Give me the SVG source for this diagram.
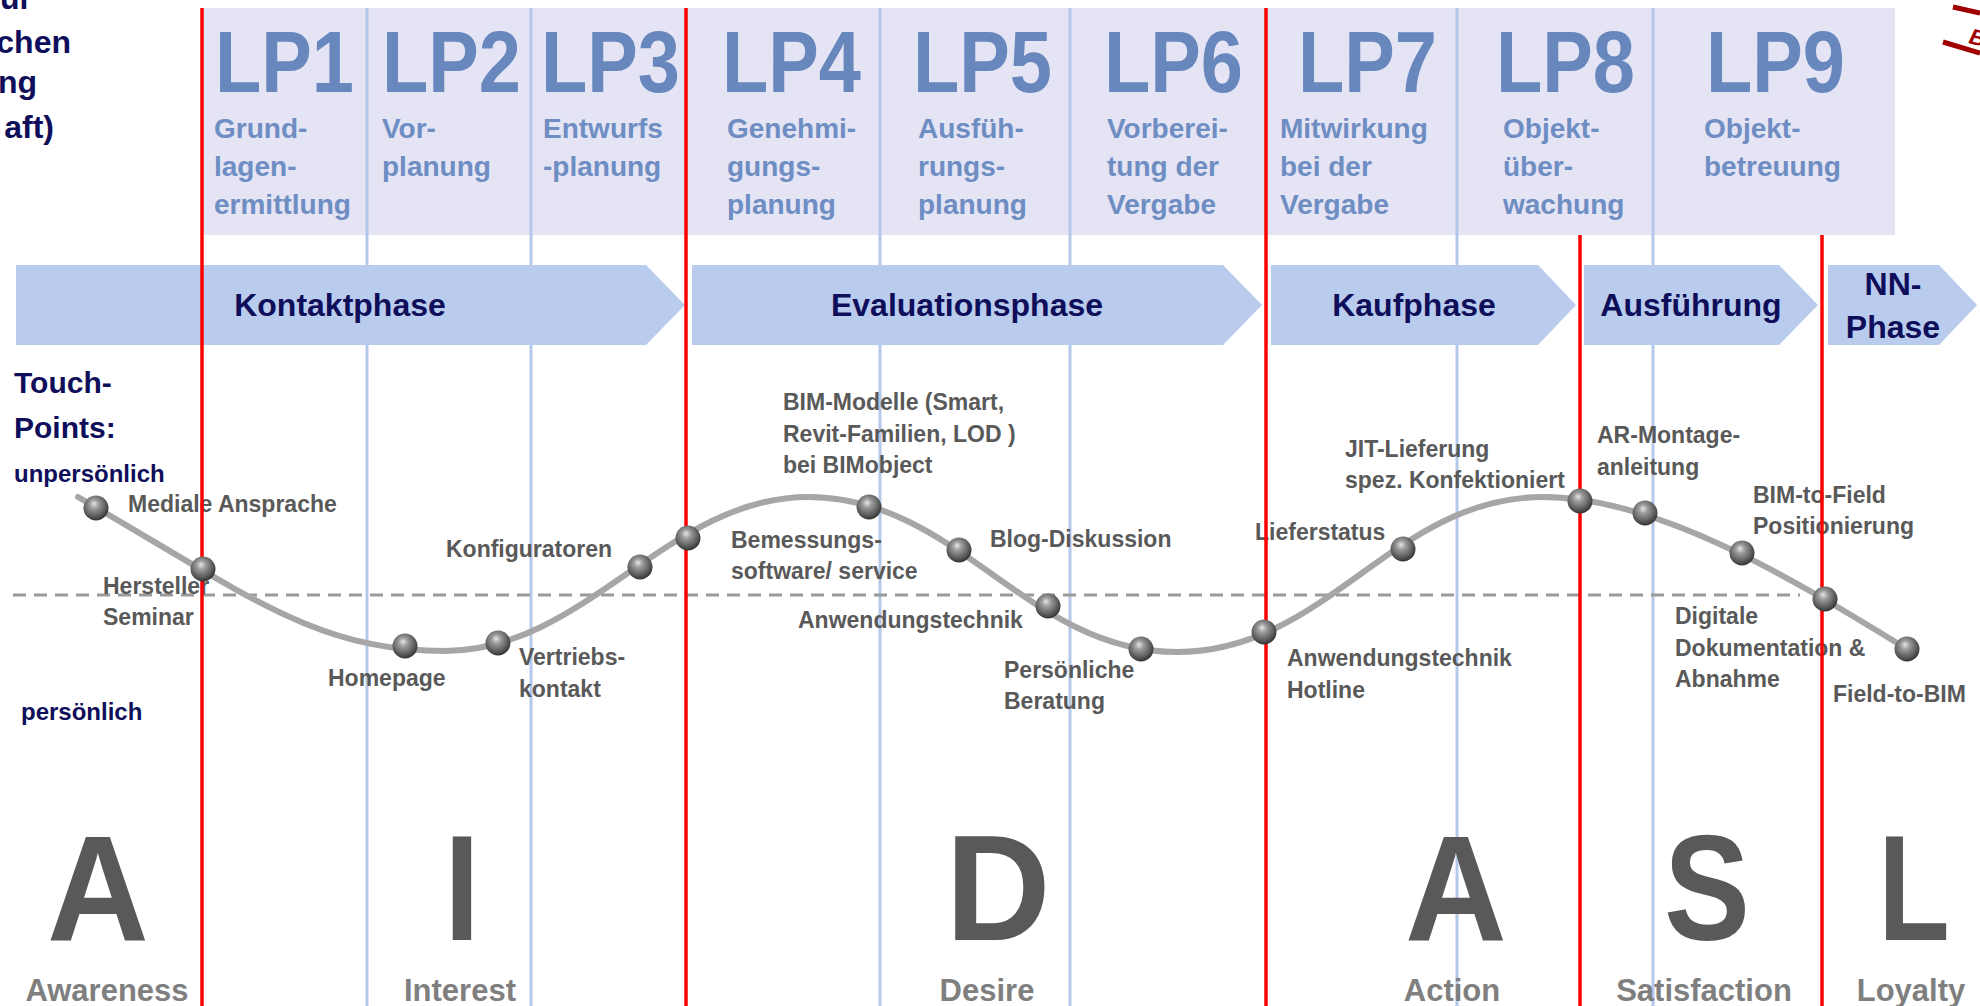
<svg xmlns="http://www.w3.org/2000/svg" width="1980" height="1006" viewBox="0 0 1980 1006">
<defs>
<style>
text{font-family:"Liberation Sans",Arial,sans-serif;font-weight:bold}
.lp{font-size:88px;fill:#6787BD}
.lps{font-size:28px;fill:#6E8DC2}
.ph{font-size:32px;fill:#0E0E5A;text-anchor:middle}
.nv{fill:#0E0E5A}
.tp{font-size:23px;fill:#595959}
.big{font-size:150px;fill:#595959;text-anchor:middle}
.sub{font-size:31px;fill:#7F7F7F;text-anchor:middle}
.blue{stroke:#B4C8EA;stroke-width:3}
.red{stroke:#FF0000;stroke-width:3.5}
.arrow{fill:#BACCED}
.ball{fill:url(#ballg)}
</style>
<radialGradient id="ballg" cx="0.45" cy="0.4" r="0.6" fx="0.42" fy="0.32">
<stop offset="0" stop-color="#E6E6E6"/>
<stop offset="0.3" stop-color="#9C9C9C"/>
<stop offset="0.75" stop-color="#5C5C5C"/>
<stop offset="1" stop-color="#333333"/>
</radialGradient>
</defs>
<rect width="1980" height="1006" fill="#FFFFFF"/>

<!-- LP header box -->
<rect x="203" y="8" width="1692" height="227" fill="#E4E4F5"/>

<!-- light blue separators -->
<g id="blue-lines">
<line class="blue" x1="367" y1="8" x2="367" y2="1006"/>
<line class="blue" x1="531" y1="8" x2="531" y2="1006"/>
<line class="blue" x1="880" y1="8" x2="880" y2="1006"/>
<line class="blue" x1="1070" y1="8" x2="1070" y2="1006"/>
<line class="blue" x1="1457" y1="8" x2="1457" y2="1006"/>
<line class="blue" x1="1653" y1="8" x2="1653" y2="1006"/>
</g>

<!-- LP labels -->
<g id="lp1"><text class="lp" x="215" y="92" textLength="139" lengthAdjust="spacingAndGlyphs">LP1</text>
<text class="lps" x="214" y="138">Grund-</text><text class="lps" x="214" y="176">lagen-</text><text class="lps" x="214" y="214">ermittlung</text></g>
<g id="lp2"><text class="lp" x="382" y="92" textLength="139" lengthAdjust="spacingAndGlyphs">LP2</text>
<text class="lps" x="382" y="138">Vor-</text><text class="lps" x="382" y="176">planung</text></g>
<g id="lp3"><text class="lp" x="541" y="92" textLength="139" lengthAdjust="spacingAndGlyphs">LP3</text>
<text class="lps" x="543" y="138">Entwurfs</text><text class="lps" x="543" y="176">-planung</text></g>
<g id="lp4"><text class="lp" x="722" y="92" textLength="139" lengthAdjust="spacingAndGlyphs">LP4</text>
<text class="lps" x="727" y="138">Genehmi-</text><text class="lps" x="727" y="176">gungs-</text><text class="lps" x="727" y="214">planung</text></g>
<g id="lp5"><text class="lp" x="913" y="92" textLength="139" lengthAdjust="spacingAndGlyphs">LP5</text>
<text class="lps" x="918" y="138">Ausfüh-</text><text class="lps" x="918" y="176">rungs-</text><text class="lps" x="918" y="214">planung</text></g>
<g id="lp6"><text class="lp" x="1104" y="92" textLength="139" lengthAdjust="spacingAndGlyphs">LP6</text>
<text class="lps" x="1107" y="138">Vorberei-</text><text class="lps" x="1107" y="176">tung der</text><text class="lps" x="1107" y="214">Vergabe</text></g>
<g id="lp7"><text class="lp" x="1298" y="92" textLength="139" lengthAdjust="spacingAndGlyphs">LP7</text>
<text class="lps" x="1280" y="138">Mitwirkung</text><text class="lps" x="1280" y="176">bei der</text><text class="lps" x="1280" y="214">Vergabe</text></g>
<g id="lp8"><text class="lp" x="1496" y="92" textLength="139" lengthAdjust="spacingAndGlyphs">LP8</text>
<text class="lps" x="1503" y="138">Objekt-</text><text class="lps" x="1503" y="176">über-</text><text class="lps" x="1503" y="214">wachung</text></g>
<g id="lp9"><text class="lp" x="1706" y="92" textLength="139" lengthAdjust="spacingAndGlyphs">LP9</text>
<text class="lps" x="1704" y="138">Objekt-</text><text class="lps" x="1704" y="176">betreuung</text></g>

<!-- phase arrows -->
<g id="phase-kontakt"><polygon class="arrow" points="16,265 646,265 685,305 646,345 16,345"/><text class="ph" x="340" y="316">Kontaktphase</text></g>
<g id="phase-evaluation"><polygon class="arrow" points="692,265 1223,265 1262,305 1223,345 692,345"/><text class="ph" x="967" y="316">Evaluationsphase</text></g>
<g id="phase-kauf"><polygon class="arrow" points="1271,265 1538,265 1576,305 1538,345 1271,345"/><text class="ph" x="1414" y="316">Kaufphase</text></g>
<g id="phase-ausfuehrung"><polygon class="arrow" points="1584,265 1779,265 1818,305 1779,345 1584,345"/><text class="ph" x="1691" y="316">Ausführung</text></g>
<g id="phase-nn"><polygon class="arrow" points="1828,265 1939,265 1977,305 1939,345 1828,345"/><text class="ph" x="1893" y="295">NN-</text><text class="ph" x="1893" y="338">Phase</text></g>

<!-- left texts -->
<g id="left-title" class="nv" font-size="32" text-anchor="end">
<text x="32" y="9">zur</text><text x="71" y="53">chen</text><text x="37" y="93">ng</text><text x="54" y="138">aft)</text>
</g>
<text class="nv" x="14" y="393" font-size="30">Touch-</text>
<text class="nv" x="14" y="438" font-size="30">Points:</text>
<text class="nv" x="14" y="482" font-size="24">unpersönlich</text>
<text class="nv" x="21" y="720" font-size="24">persönlich</text>

<!-- dashed separator -->
<line x1="13" y1="595" x2="1800" y2="595" stroke="#9A9A9A" stroke-width="3" stroke-dasharray="13 8"/>

<!-- touchpoint labels -->
<g id="labels">
<text class="tp" x="128" y="512">Mediale Ansprache</text>
<text class="tp" x="103" y="594">Hersteller</text><text class="tp" x="103" y="625">Seminar</text>
<text class="tp" x="328" y="686">Homepage</text>
<text class="tp" x="519" y="665">Vertriebs-</text><text class="tp" x="519" y="697">kontakt</text>
<text class="tp" x="446" y="557">Konfiguratoren</text>
<text class="tp" x="783" y="410">BIM-Modelle (Smart,</text><text class="tp" x="783" y="442">Revit-Familien, LOD )</text><text class="tp" x="783" y="473">bei BIMobject</text>
<text class="tp" x="731" y="548">Bemessungs-</text><text class="tp" x="731" y="579">software/ service</text>
<text class="tp" x="990" y="547">Blog-Diskussion</text>
<text class="tp" x="798" y="628">Anwendungstechnik</text>
<text class="tp" x="1004" y="678">Persönliche</text><text class="tp" x="1004" y="709">Beratung</text>
<text class="tp" x="1287" y="666">Anwendungstechnik</text><text class="tp" x="1287" y="698">Hotline</text>
<text class="tp" x="1255" y="540">Lieferstatus</text>
<text class="tp" x="1345" y="457">JIT-Lieferung</text><text class="tp" x="1345" y="488">spez. Konfektioniert</text>
<text class="tp" x="1597" y="443">AR-Montage-</text><text class="tp" x="1597" y="475">anleitung</text>
<text class="tp" x="1753" y="503">BIM-to-Field</text><text class="tp" x="1753" y="534">Positionierung</text>
<text class="tp" x="1675" y="624">Digitale</text><text class="tp" x="1675" y="656">Dokumentation &amp;</text><text class="tp" x="1675" y="687">Abnahme</text>
<text class="tp" x="1833" y="702">Field-to-BIM</text>
</g>

<!-- red phase boundaries -->
<g id="red-lines">
<line class="red" x1="202" y1="8" x2="202" y2="1006"/>
<line class="red" x1="686" y1="8" x2="686" y2="1006"/>
<line class="red" x1="1266" y1="8" x2="1266" y2="1006"/>
<line class="red" x1="1580" y1="235" x2="1580" y2="1006"/>
<line class="red" x1="1822" y1="235" x2="1822" y2="1006"/>
</g>

<!-- connectors: touchpoint curve -->
<g id="connectors">
<path d="M78,497 C248,595 315,651 445,651 C585,651 668,497 808,497 C958,497 1027,652 1177,652 C1327,652 1393,497 1543,497 C1663,497 1807,588 1907,649" fill="none" stroke="#A6A6A6" stroke-width="6" stroke-linecap="round"/>
</g>

<!-- touchpoint nodes -->
<g id="nodes">
<g id="tp-mediale"><circle class="ball" cx="96" cy="508" r="12.5"/></g>
<g id="tp-hersteller"><circle class="ball" cx="203" cy="569" r="12.5"/></g>
<g id="tp-homepage"><circle class="ball" cx="405" cy="646" r="12.5"/></g>
<g id="tp-vertrieb"><circle class="ball" cx="498" cy="643" r="12.5"/></g>
<g id="tp-konfig"><circle class="ball" cx="640" cy="567" r="12.5"/></g>
<g id="tp-bemessung"><circle class="ball" cx="688" cy="538" r="12.5"/></g>
<g id="tp-bim"><circle class="ball" cx="869" cy="507" r="12.5"/></g>
<g id="tp-blog"><circle class="ball" cx="959" cy="550" r="12.5"/></g>
<g id="tp-anwendung"><circle class="ball" cx="1048" cy="606" r="12.5"/></g>
<g id="tp-beratung"><circle class="ball" cx="1141" cy="649" r="12.5"/></g>
<g id="tp-hotline"><circle class="ball" cx="1264" cy="632" r="12.5"/></g>
<g id="tp-lieferstatus"><circle class="ball" cx="1403" cy="549" r="12.5"/></g>
<g id="tp-jit"><circle class="ball" cx="1580" cy="501" r="12.5"/></g>
<g id="tp-ar"><circle class="ball" cx="1645" cy="513" r="12.5"/></g>
<g id="tp-bim2field"><circle class="ball" cx="1742" cy="553" r="12.5"/></g>
<g id="tp-doku"><circle class="ball" cx="1825" cy="599" r="12.5"/></g>
<g id="tp-field2bim"><circle class="ball" cx="1907" cy="649" r="12.5"/></g>
</g>

<!-- AIDASL -->
<g id="aidasl">
<text class="big" transform="translate(98,940) scale(0.94,1)">A</text><text class="sub" x="107" y="1001">Awareness</text>
<text class="big" transform="translate(462,940) scale(0.85,1)">I</text><text class="sub" x="460" y="1001">Interest</text>
<text class="big" transform="translate(998,940) scale(0.97,1)">D</text><text class="sub" x="987" y="1001">Desire</text>
<text class="big" transform="translate(1456,940) scale(0.94,1)">A</text><text class="sub" x="1452" y="1001">Action</text>
<text class="big" transform="translate(1707,940) scale(0.86,1)">S</text><text class="sub" x="1704" y="1001">Satisfaction</text>
<text class="big" transform="translate(1914,940) scale(0.78,1)">L</text><text class="sub" x="1911" y="1001">Loyalty</text>
</g>

<!-- stamp fragment top right -->
<g id="stamp" stroke="#A00000" stroke-width="5">
<line x1="1953" y1="7" x2="1980" y2="13"/>
<line x1="1943" y1="42" x2="1980" y2="53"/>
<text x="1968" y="43" font-size="22" font-style="italic" fill="#A00000" stroke="none" transform="rotate(14 1968 43)">B</text>
</g>
</svg>
